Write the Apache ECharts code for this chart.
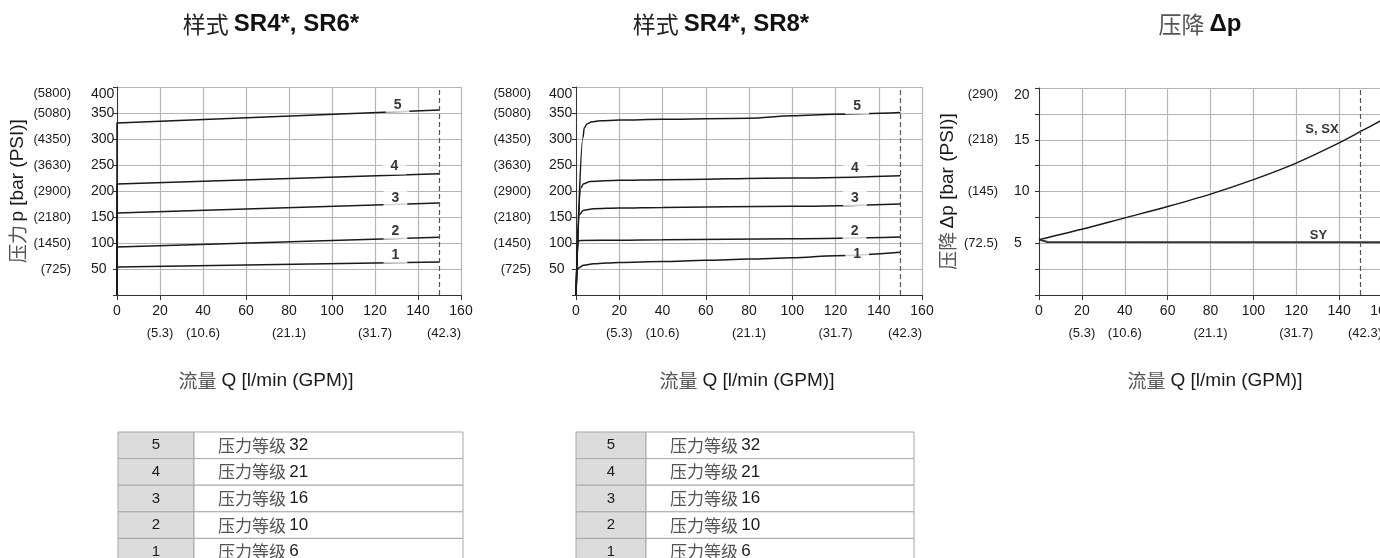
<!DOCTYPE html>
<html><head><meta charset="utf-8">
<script src="https://cdn.jsdelivr.net/npm/echarts@6/dist/echarts.min.js"></script>
<style>html,body{margin:0;padding:0;background:#fff}#c{width:1380px;height:558px}</style>
</head><body><div id="c"></div>
<script>
// ---------- data ----------
const chartTitles = ['SR4*, SR6*', 'SR4*, SR8*'];
const curveNames = ['1', '2', '3', '4', '5'];

const pressureTicks = [50, 100, 150, 200, 250, 300, 350, 400];
const pressurePsi = ['(725)', '(1450)', '(2180)', '(2900)', '(3630)', '(4350)', '(5080)', '(5800)'];
const dpTicks = [5, 10, 15, 20];
const dpPsi = ['(72.5)', '(145)', '(218)', '(290)'];
const gpmTicks = [20, 40, 80, 120, 160];
const gpmLabels = ['(5.3)', '(10.6)', '(21.1)', '(31.7)', '(42.3)'];
const gpmTickMarks = [0, 20, 60, 100, 140, 160];
const ratedFlow = 150;

// chart 1: SR4*, SR6*  (curves 1..5)
const leftFlow = [0, 0, 150];
const left1 = [0, 54, 63.5];
const left2 = [0, 92.5, 111];
const left3 = [0, 157.5, 177];
const left4 = [0, 213.5, 233];
const left5 = [0, 331, 356];
const leftLabelX = [129.5, 129.5, 129.5, 129, 130.5];
const leftLabelY = [76, 122, 186.5, 247, 366];

// chart 2: SR4*, SR8*
const mid1Flow = [0, 0.5, 1.2, 3.5, 8.2, 20, 40, 60, 80, 100, 120, 150];
const mid1 = [0, 48.5, 52, 57, 60, 62.7, 64.6, 66.6, 69, 71.5, 75.5, 82];
const mid2Flow = [0, 0.9, 2, 20, 40, 100, 150];
const mid2 = [0, 103, 105, 105.5, 106.3, 108.3, 111.5];
const mid3Flow = [0, 1.5, 3.5, 8.2, 20, 40, 100, 150];
const mid3 = [0, 154.5, 163, 166, 167.3, 168.5, 170.5, 175];
const mid4Flow = [0, 2.3, 3.5, 6.6, 20, 40, 100, 150];
const mid4 = [0, 206, 214, 218.5, 220.5, 221.7, 225, 229.5];
const mid5Flow = [0, 3.2, 3.8, 5.1, 7.4, 11.2, 20, 40, 80, 100, 120, 150];
const mid5 = [0, 302, 321, 329, 333, 335, 336.5, 338, 340, 344.5, 347.5, 351];
const midLabelX = [130, 128.8, 129, 129, 130];
const midLabelY = [78.8, 122.3, 186.5, 244, 362.7];

// chart 3: pressure drop
const dpFlow = [0, 20, 40, 60, 80, 100, 120, 140, 150, 160];
const dpS = [5.35, 6.35, 7.45, 8.55, 9.75, 11.15, 12.75, 14.7, 15.8, 16.9];
const dpSYFlow = [0, 4, 160];
const dpSY = [5.35, 5.12, 5.1];
const dpNames = ['S, SX', 'SY'];
const dpLabelX = [132, 130.4];
const dpLabelY = [15.95, 5.8];

// tables
const tableNums = ['5', '4', '3', '2', '1'];
const tableText = ['压力等级', '压力等级', '压力等级', '压力等级', '压力等级'];
const tableClass = ['32', '21', '16', '10', '6'];

// ---------- styling ----------
const NARROW = "'Liberation Sans Narrow','Arial Narrow','Liberation Sans',Arial,sans-serif";
const SANS = "'Liberation Sans',Arial,sans-serif";
const CJK = "'Noto Sans CJK SC','Noto Sans CJK JP',sans-serif";
const GRID = '#b5b5b5';
const INK = '#1a1a1a';

const grids = [
  {left: 117, top: 87, width: 344, height: 208, outerBoundsMode: 'none', containLabel: false},
  {left: 576, top: 87, width: 346, height: 208, outerBoundsMode: 'none', containLabel: false},
  {left: 1039, top: 88, width: 343, height: 207, outerBoundsMode: 'none', containLabel: false}
];

function xAxes(gi) {
  return [
    {type: 'value', gridIndex: gi, min: 0, max: 160, interval: 20,
     axisLine: {show: false}, axisTick: {show: false},
     axisLabel: {margin: 9, fontFamily: NARROW, fontSize: 14, color: INK},
     splitLine: {show: true, lineStyle: {color: GRID, width: 1.2}}},
    {type: 'value', gridIndex: gi, min: 0, max: 160, position: 'bottom', offset: 26,
     axisLine: {show: true, lineStyle: {color: '#333', width: 1}},
     axisTick: {show: true, length: 5, customValues: gpmTickMarks, lineStyle: {color: '#333'}},
     axisLabel: {margin: 6, fontFamily: NARROW, fontSize: 13, color: INK, customValues: gpmTicks,
       alignMaxLabel: 'right',
       formatter: v => { const k = gpmTicks.indexOf(v); return k >= 0 ? gpmLabels[k] : ''; }},
     splitLine: {show: false}}
  ];
}

function yAxes(gi, max, interval, ticks, psi, offBar, offPsi, name, nameGap) {
  return [
    {type: 'value', gridIndex: gi, min: 0, max: max, interval: interval, position: 'left', offset: offBar,
     axisLine: {show: true, lineStyle: {color: '#333', width: 1}},
     axisTick: {show: true, length: 4, inside: false, lineStyle: {color: '#333'}},
     axisLabel: {inside: true, margin: 6, fontFamily: NARROW, fontSize: 14, color: INK,
       verticalAlignMaxLabel: 'top',
       formatter: v => (ticks.indexOf(v) >= 0 ? String(v) : '')},
     splitLine: {show: true, showMinLine: false, lineStyle: {color: GRID, width: 1.2}}},
    {type: 'value', gridIndex: gi, min: 0, max: max, interval: interval, position: 'left', offset: offPsi,
     axisLine: {show: false}, axisTick: {show: false},
     axisLabel: {margin: 4, fontFamily: NARROW, fontSize: 13, color: INK,
       verticalAlignMaxLabel: 'top',
       formatter: v => { const k = ticks.indexOf(v); return k >= 0 ? psi[k] : ''; }},
     splitLine: {show: false},
     name: name, nameLocation: 'middle', nameRotate: 90, nameGap: nameGap,
     nameTextStyle: {rich: {
       c: {fontFamily: CJK, fontSize: 19, color: '#555', fontWeight: 'normal'},
       t: {fontFamily: SANS, fontSize: 19, color: INK, fontWeight: 'normal'}
     }}}
  ];
}

function line(gi, xs, ys, smooth, color, width, extra) {
  return Object.assign({
    type: 'line', xAxisIndex: gi * 2, yAxisIndex: gi * 2,
    data: xs.map((x, j) => [x, ys[j]]), symbol: 'none', smooth: smooth,
    lineStyle: {color: color, width: width}, silent: true, z: 3
  }, extra || {});
}

function dashed(gi) {
  return {
    type: 'line', xAxisIndex: gi * 2, yAxisIndex: gi * 2, data: [], symbol: 'none', silent: true, z: 4,
    markLine: {silent: true, symbol: ['none', 'none'], label: {show: false},
      lineStyle: {color: '#555', type: [5, 3], width: 1.2}, data: [{xAxis: ratedFlow}]}
  };
}

function labels(gi, xs, ys, names, fontSize, bg) {
  return {
    type: 'scatter', xAxisIndex: gi * 2, yAxisIndex: gi * 2, symbolSize: 0, silent: true, z: 6,
    data: xs.map((x, j) => ({value: [x, ys[j]], name: names[j]})),
    label: {show: true, position: 'inside', formatter: '{b}', fontFamily: SANS, fontWeight: 'bold',
      fontSize: fontSize, color: '#000', backgroundColor: bg ? '#fff' : 'transparent', padding: bg ? [1, 8] : 0}
  };
}

const leftSets = [left1, left2, left3, left4, left5];
const midSets = [[mid1Flow, mid1], [mid2Flow, mid2], [mid3Flow, mid3], [mid4Flow, mid4], [mid5Flow, mid5]];

const series = [];
leftSets.forEach(ys => series.push(line(0, leftFlow, ys, false, INK, 1.5)));
series.push(dashed(0));
series.push(labels(0, leftLabelX, leftLabelY, curveNames, 14, true));
midSets.forEach(([xs, ys]) => series.push(line(1, xs, ys, 0.35, INK, 1.5, {smoothMonotone: 'x'})));
series.push(dashed(1));
series.push(labels(1, midLabelX, midLabelY, curveNames, 14, true));
series.push(line(2, dpSYFlow, dpSY, false, '#333', 2));
series.push(line(2, dpFlow, dpS, 0.3, INK, 1.4));
series.push(dashed(2));
series.push(labels(2, dpLabelX, dpLabelY, dpNames, 13, false));

const titleRich = {
  c: {fontFamily: CJK, fontSize: 23, color: '#222', fontWeight: 'normal'},
  g: {fontFamily: CJK, fontSize: 23, color: '#555', fontWeight: 'normal'},
  b: {fontFamily: SANS, fontSize: 24, fontWeight: 'bold', color: '#111'}
};
const xTitleRich = {
  c: {fontFamily: CJK, fontSize: 19, color: '#555', fontWeight: 'normal'},
  t: {fontFamily: SANS, fontSize: 19, color: INK, fontWeight: 'normal'}
};
const titles = [
  {text: '{c|样式} {b|' + chartTitles[0] + '}', left: 271, top: 12, textAlign: 'center', padding: 0, textStyle: {rich: titleRich}},
  {text: '{c|样式} {b|' + chartTitles[1] + '}', left: 721, top: 12, textAlign: 'center', padding: 0, textStyle: {rich: titleRich}},
  {text: '{g|压降} {b|Δp}', left: 1200, top: 12, textAlign: 'center', padding: 0, textStyle: {rich: titleRich}},
  {text: '{c|流量} {t|Q [l/min (GPM)]}', left: 266, top: 371, textAlign: 'center', padding: 0, textStyle: {rich: xTitleRich}},
  {text: '{c|流量} {t|Q [l/min (GPM)]}', left: 747, top: 371, textAlign: 'center', padding: 0, textStyle: {rich: xTitleRich}},
  {text: '{c|流量} {t|Q [l/min (GPM)]}', left: 1215, top: 371, textAlign: 'center', padding: 0, textStyle: {rich: xTitleRich}}
];

// tables
const graphic = [];
const tables = [{x: 118, div: 194, right: 463}, {x: 576, div: 646, right: 914}];
const rowTop = 432, rowH = 26.6;
tables.forEach(t => {
  tableNums.forEach((n, i) => {
    const y = rowTop + i * rowH;
    graphic.push({type: 'rect', shape: {x: t.x, y: y, width: t.div - t.x, height: rowH},
      style: {fill: '#dcdcdc', stroke: '#a8a8a8', lineWidth: 1}, silent: true});
    graphic.push({type: 'rect', shape: {x: t.div, y: y, width: t.right - t.div, height: rowH},
      style: {fill: '#fff', stroke: '#a8a8a8', lineWidth: 1}, silent: true});
    graphic.push({type: 'text', x: (t.x + t.div) / 2, y: y + rowH / 2, silent: true,
      style: {text: n, fontFamily: SANS, fontSize: 15, fill: INK, align: 'center', verticalAlign: 'middle'}});
    graphic.push({type: 'text', x: t.div + 24, y: y + rowH / 2, silent: true,
      style: {text: '{c|' + tableText[i] + '} {n|' + tableClass[i] + '}', align: 'left', verticalAlign: 'middle',
        rich: {c: {fontFamily: CJK, fontSize: 17, fill: '#555'}, n: {fontFamily: SANS, fontSize: 17, fill: INK}}}});
  });
});

const option = {
  animation: false,
  backgroundColor: '#fff',
  title: titles,
  grid: grids,
  xAxis: [].concat(xAxes(0), xAxes(1), xAxes(2)),
  yAxis: [].concat(
    yAxes(0, 400, 50, pressureTicks, pressurePsi, 32, 42, '{c|压力} {t|p [bar (PSI)]}', 48),
    yAxes(1, 400, 50, pressureTicks, pressurePsi, 33, 41, '', 0),
    yAxes(2, 20, 2.5, dpTicks, dpPsi, 31, 37, '{c|压降} {t|Δp [bar (PSI)]}', 45)
  ),
  series: series,
  graphic: graphic
};

const chart = echarts.init(document.getElementById('c'), null, {renderer: 'canvas'});
chart.setOption(option);
</script>
</body></html>
